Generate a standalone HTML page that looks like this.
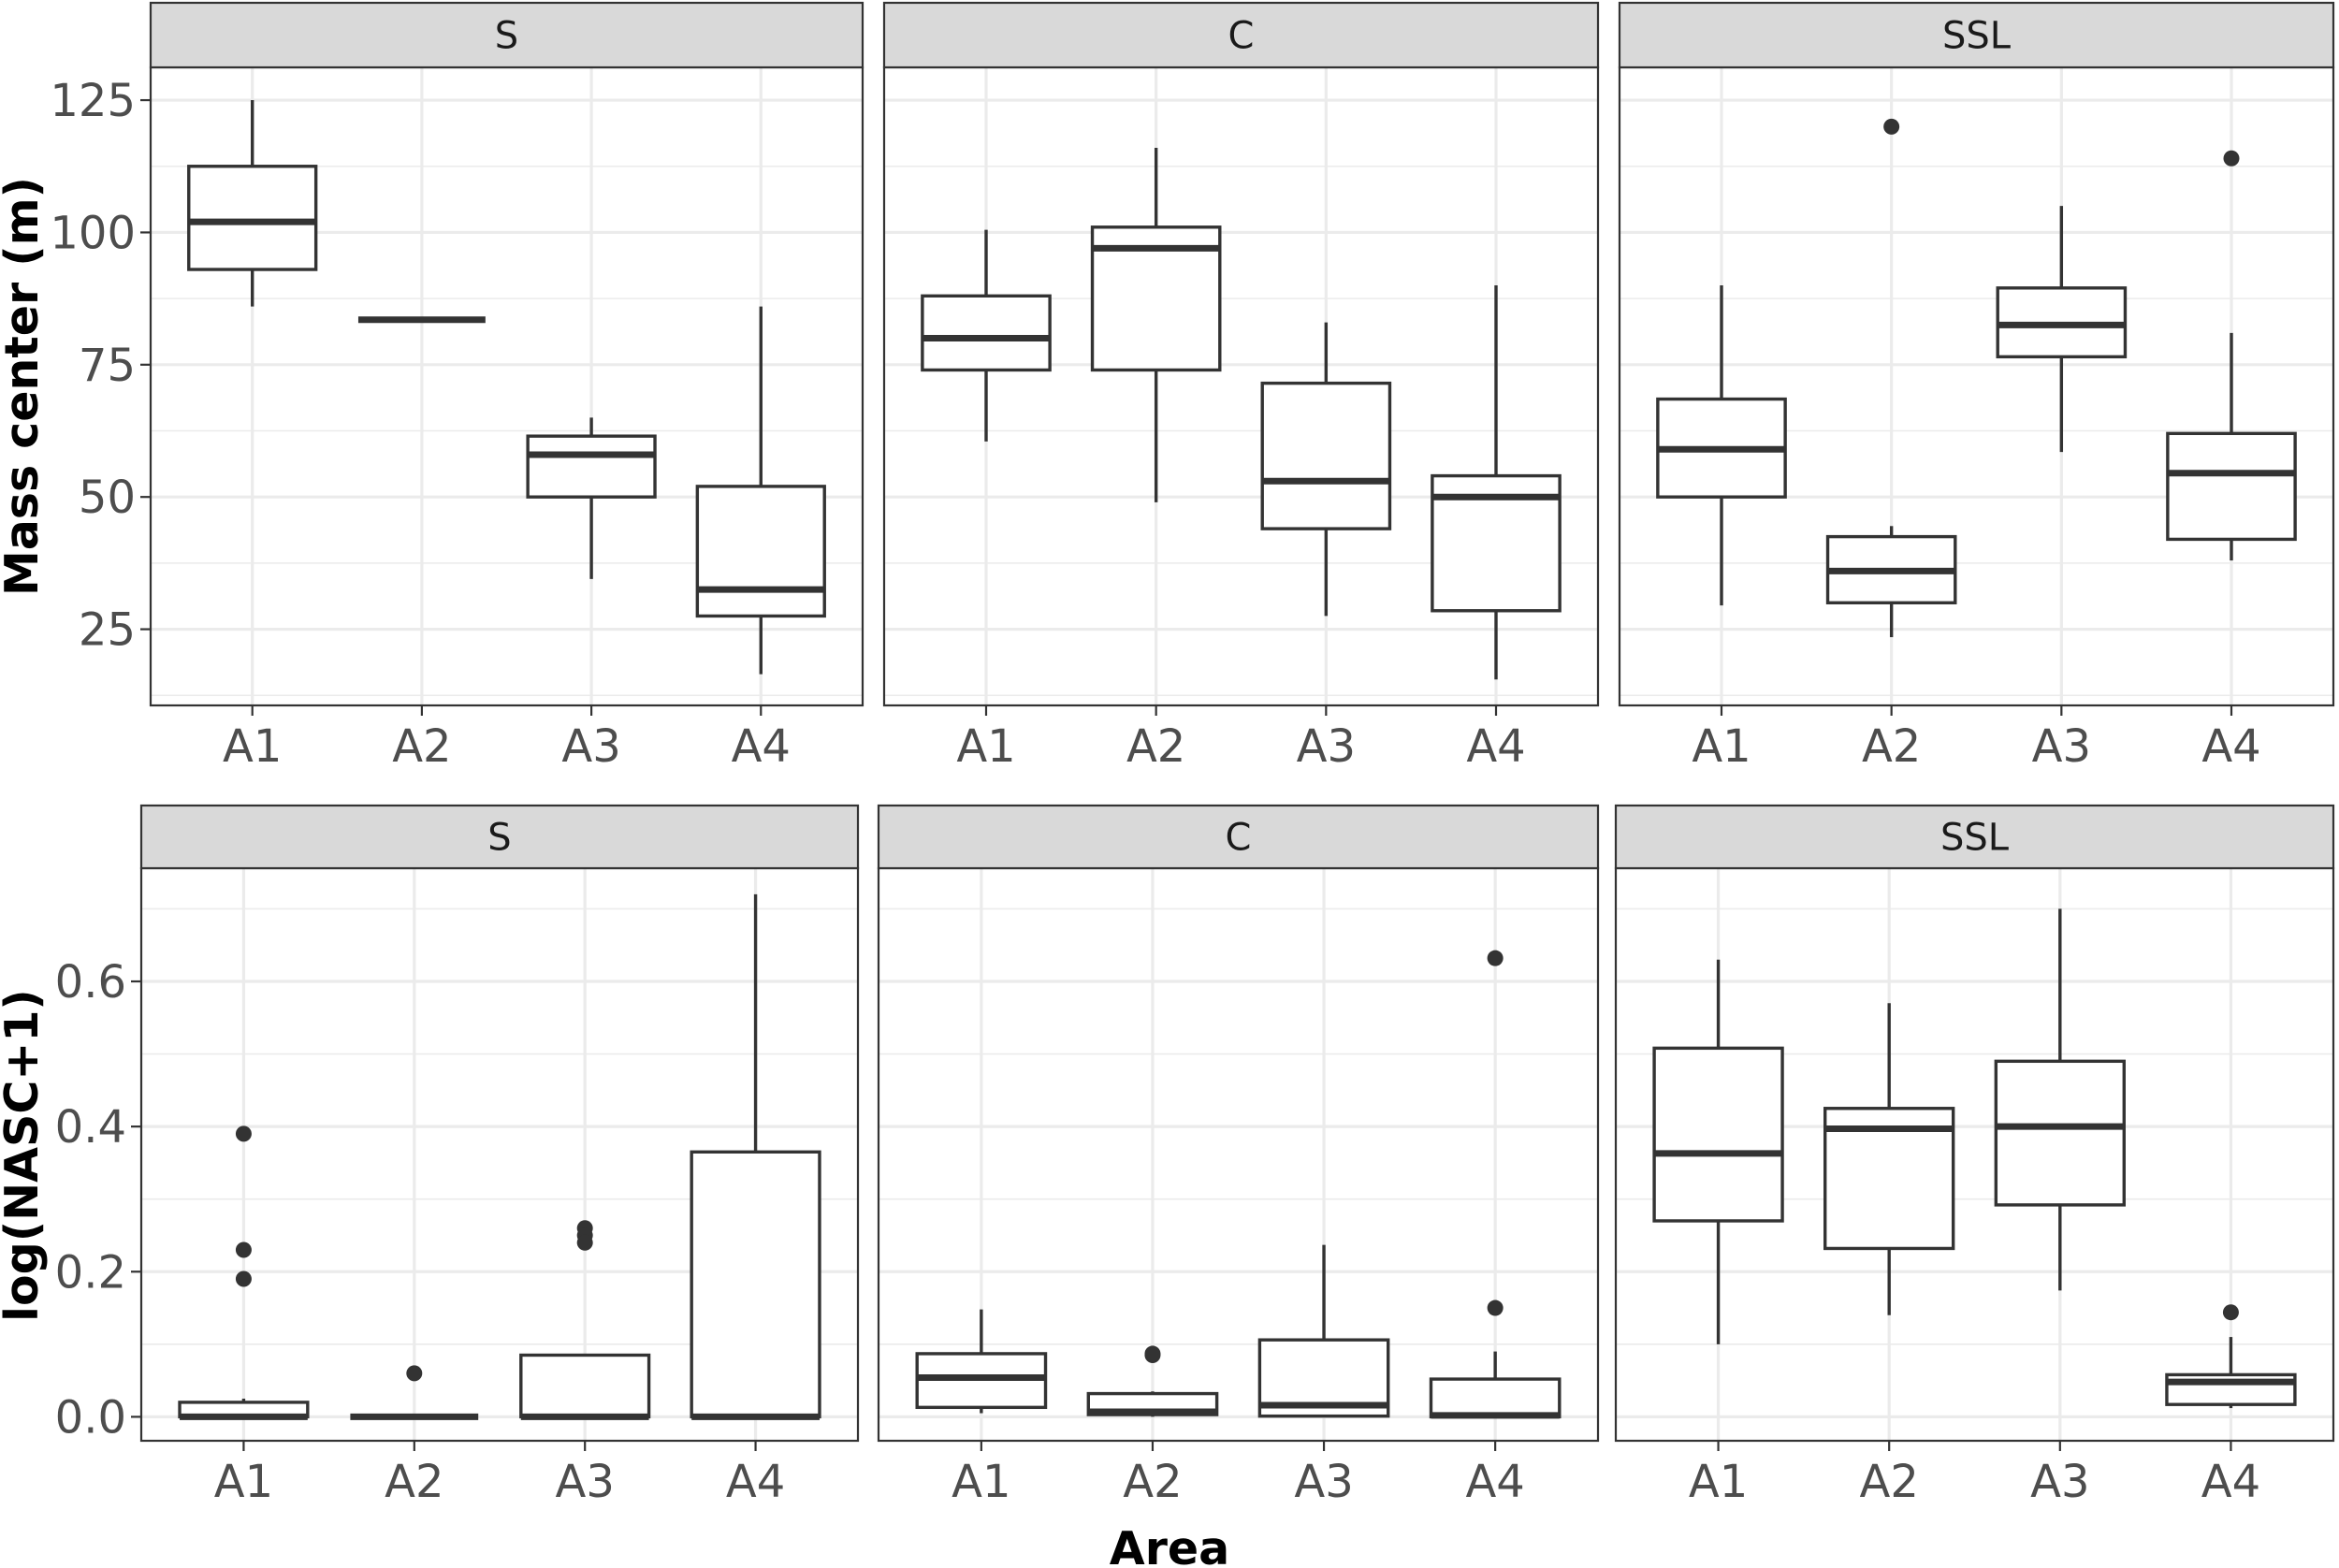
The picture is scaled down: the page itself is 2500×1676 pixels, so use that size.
<!DOCTYPE html>
<html><head><meta charset="utf-8"><style>
html,body{margin:0;padding:0;background:#fff;}
svg{display:block;font-family:"DejaVu Sans","Liberation Sans",sans-serif;}
</style></head>
<body>
<svg id="chart" width="2500" height="1676" viewBox="0 0 2500 1676" xmlns="http://www.w3.org/2000/svg">
<text x="0" y="0" transform="translate(40,413) rotate(-90)" text-anchor="middle" font-size="49" font-weight="bold" fill="#000">Mass center (m)</text>
<text x="0" y="0" transform="translate(40,1235) rotate(-90)" text-anchor="middle" font-size="49" font-weight="bold" fill="#000">log(NASC+1)</text>
<text x="1250" y="1672" text-anchor="middle" font-size="49" font-weight="bold" fill="#000">Area</text>
</svg>
<script>
const categories = ["A1","A2","A3","A4"];
const facets = ["S","C","SSL"];
// Top row: [min, q1, median, q3, max] per facet per area
const massS   = [[86,93,102,112.5,125],[83.5,83.5,83.5,83.5,83.5],[34.5,50,58,61.5,65],[16.5,27.5,32.5,52,86]];
const massC   = [[60.5,74,80,88,100.5],[49,74,97,101,116],[27.5,44,53,71.5,83],[15.5,28.5,50,54,90]];
const massSSL = [[29.5,50,59,68.5,90],[23.5,30,36,42.5,44.5],[58.5,76.5,82.5,89.5,105],[38,42,54.5,62,81]];
const massOutS = [[],[],[],[]];
const massOutC = [[],[],[],[]];
const massOutSSL = [[],[120],[],[114]];
const massTicks = [25,50,75,100,125];
const massMinor = [12.5,37.5,62.5,87.5,112.5];
// Bottom row
const nascS   = [[0,0,0,0.02,0.025],[0,0,0,0,0],[0,0,0,0.085,0.085],[0,0,0,0.365,0.72]];
const nascC   = [[0.005,0.013,0.054,0.087,0.148],[0,0.003,0.007,0.032,0.035],[0,0.001,0.016,0.106,0.237],[0,0,0.002,0.052,0.09]];
const nascSSL = [[0.1,0.27,0.363,0.508,0.63],[0.14,0.232,0.397,0.425,0.57],[0.174,0.292,0.4,0.49,0.7],[0.012,0.017,0.048,0.058,0.11]];
const nascOutS = [[0.39,0.23,0.19],[0.06],[0.26,0.25,0.24],[]];
const nascOutC = [[],[0.085,0.087],[],[0.15,0.632]];
const nascOutSSL = [[],[],[],[0.144]];
const nascTicks = [0,0.2,0.4,0.6];
const nascLabels = ["0.0","0.2","0.4","0.6"];
const nascMinor = [0.1,0.3,0.5,0.7];

const svg = document.getElementById('chart');
const NS = "http://www.w3.org/2000/svg";
function mk(tag, attrs, parent){ const e=document.createElementNS(NS,tag); for(const k in attrs) e.setAttribute(k,attrs[k]); (parent||svg).appendChild(e); return e; }

function panel(px0, px1, stripTop, py0, py1, vmin, vmax, facet, stats, outs, ticks, tickLabels, minor, showY, rowName){
  const g = mk('g',{});
  
  
  const y = v => py1 - (v - vmin) / (vmax - vmin) * (py1 - py0);
  const step = (px1 - px0) / 4.2;
  const x = i => px0 + step * (0.6 + i);
  minor.forEach(v => { const yy=y(v); if(yy>py0 && yy<py1){ const l=mk('line',{x1:px0,x2:px1,y1:yy,y2:yy,stroke:'#ebebeb','stroke-width':1.6},g);   }});
  ticks.forEach(v => { const l=mk('line',{x1:px0,x2:px1,y1:y(v),y2:y(v),stroke:'#ebebeb','stroke-width':3.2},g);   });
  categories.forEach((c,i) => { const l=mk('line',{x1:x(i),x2:x(i),y1:py0,y2:py1,stroke:'#ebebeb','stroke-width':3.2},g);   });
  const bw = step * 0.75;
  stats.forEach((s,i) => {
    const bg = mk('g',{},g);
    
    
    const cx = x(i);
    mk('line',{x1:cx,x2:cx,y1:y(s[0]),y2:y(s[1]),stroke:'#333','stroke-width':3.4},bg);
    mk('line',{x1:cx,x2:cx,y1:y(s[3]),y2:y(s[4]),stroke:'#333','stroke-width':3.4},bg);
    mk('rect',{x:cx-bw/2,y:y(s[3]),width:bw,height:Math.max(0,y(s[1])-y(s[3])),fill:'#fff',stroke:'#333','stroke-width':3.4},bg);
    mk('line',{x1:cx-bw/2,x2:cx+bw/2,y1:y(s[2]),y2:y(s[2]),stroke:'#333','stroke-width':7},bg);
    outs[i].forEach(o => { const c=mk('circle',{cx:cx,cy:y(o),r:8.5,fill:'#333'},bg);   });
  });
  mk('rect',{x:px0,y:py0,width:px1-px0,height:py1-py0,fill:'none',stroke:'#333','stroke-width':2.2},g);
  const st = mk('rect',{x:px0,y:stripTop,width:px1-px0,height:py0-stripTop,fill:'#d9d9d9',stroke:'#333','stroke-width':2.2},g);
  
  
  const stt = mk('text',{x:(px0+px1)/2,y:(stripTop+py0)/2+14,'text-anchor':'middle','font-size':40,fill:'#1a1a1a'},g);
  stt.textContent = facet;
  
  
  categories.forEach((c,i) => {
    mk('line',{x1:x(i),x2:x(i),y1:py1,y2:py1+11,stroke:'#333','stroke-width':2.2},g);
    const t = mk('text',{x:x(i),y:py1+60,'text-anchor':'middle','font-size':48,fill:'#4d4d4d'},g);
    t.textContent = c;
    
    
  });
  if(showY){
    ticks.forEach((v,k) => {
      mk('line',{x1:px0-11,x2:px0,y1:y(v),y2:y(v),stroke:'#333','stroke-width':2.2},g);
      const t = mk('text',{x:px0-16,y:y(v)+17,'text-anchor':'end','font-size':48,fill:'#4d4d4d'},g);
      t.textContent = tickLabels[k];
      
      
    });
  }
}
const topX = [[161,922],[945,1708],[1731,2494]];
const botX = [[151,917],[939,1708],[1727,2494]];
const massStats = [massS, massC, massSSL], massOuts = [massOutS, massOutC, massOutSSL];
const nascStats = [nascS, nascC, nascSSL], nascOuts = [nascOutS, nascOutC, nascOutSSL];
facets.forEach((f,k) => {
  panel(topX[k][0], topX[k][1], 3, 72, 754, 10.6, 131.2, f, massStats[k], massOuts[k], massTicks, massTicks.map(String), massMinor, k===0, 'mass');
  panel(botX[k][0], botX[k][1], 861, 928, 1540, -0.033, 0.756, f, nascStats[k], nascOuts[k], nascTicks, nascLabels, nascMinor, k===0, 'nasc');
});
</script>
</body></html>
